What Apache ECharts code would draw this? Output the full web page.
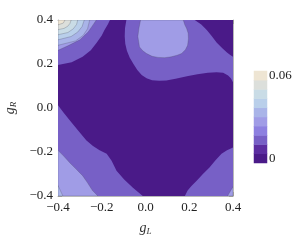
<!DOCTYPE html>
<html><head><meta charset="utf-8">
<script src="https://cdn.jsdelivr.net/npm/echarts@6/dist/echarts.min.js"></script>
<style>html,body{margin:0;padding:0;background:#fff}#c{width:300px;height:241px}</style>
</head><body><div id="c"></div>
<script>
// Contour band boundaries, in data units [g_L, g_R]
const plotDomain   = [[-0.4,-0.4],[0.4,-0.4],[0.4,0.4],[-0.4,0.4]];
const midTopLeft   = [[-0.4,0.4],[-0.1625,0.4],[-0.1725,0.38],[-0.1875,0.355],[-0.2,0.33],[-0.2225,0.2975],
                      [-0.25,0.2625],[-0.2875,0.2325],[-0.3375,0.2075],[-0.4,0.195]];
const midTopBand   = [[-0.0875,0.4],[-0.09375,0.3625],[-0.095,0.325],[-0.0925,0.2925],[-0.085,0.26],[-0.0725,0.23],
                      [-0.055,0.2],[-0.0375,0.1725],[-0.0175,0.15],[0.005,0.135],[0.03,0.12625],[0.0625,0.12375],
                      [0.095,0.125],[0.1375,0.1325],[0.195,0.145],[0.2375,0.15375],[0.285,0.16],[0.325,0.1625],
                      [0.355,0.16],[0.3775,0.1475],[0.39,0.135],[0.4,0.1175],[0.4,0.2325],[0.3875,0.24125],
                      [0.3725,0.2525],[0.35,0.2725],[0.325,0.2975],[0.3025,0.3275],[0.28,0.355],[0.255,0.38],[0.225,0.4]];
const midBottomLeft  = [[-0.4,0.0125],[-0.375,-0.02],[-0.3475,-0.055],[-0.31,-0.1],[-0.27,-0.1475],[-0.24,-0.1725],
                        [-0.21,-0.1925],[-0.1775,-0.2075],[-0.155,-0.24],[-0.1325,-0.285],[-0.0975,-0.325],
                        [-0.0575,-0.3625],[-0.0125,-0.4],[-0.4,-0.4]];
const midBottomRight = [[0.4,-0.18],[0.3725,-0.1925],[0.3475,-0.2075],[0.32,-0.2375],[0.2925,-0.27],[0.2625,-0.3],
                        [0.235,-0.33],[0.21,-0.355],[0.1925,-0.375],[0.18,-0.4],[0.4,-0.4]];
const lightTopLeft   = [[-0.4,0.4],[-0.225,0.4],[-0.24,0.3775],[-0.2625,0.345],[-0.3,0.31],[-0.35,0.285],[-0.4,0.262]];
const lightBlob      = [[-0.0225,0.4],[-0.03,0.3625],[-0.035,0.325],[-0.0275,0.2775],[-0.0125,0.26],[0.005,0.2475],
                        [0.03,0.235],[0.0575,0.23],[0.0875,0.22875],[0.1175,0.2325],[0.145,0.24],[0.165,0.2475],
                        [0.1825,0.265],[0.1925,0.285],[0.19625,0.315],[0.195,0.34],[0.1875,0.3625],[0.18,0.3775],[0.1725,0.4]];
const lightBottomLeft  = [[-0.4,-0.1925],[-0.375,-0.2175],[-0.3475,-0.2475],[-0.3175,-0.2775],[-0.2875,-0.3075],
                          [-0.265,-0.34],[-0.2425,-0.375],[-0.2175,-0.4],[-0.4,-0.4]];
const lightBottomRight = [[0.4,-0.3575],[0.375,-0.4],[0.4,-0.4]];
const band5TopLeft   = [[-0.4,0.4],[-0.255,0.4],[-0.265,0.36],[-0.285,0.33],[-0.32,0.305],[-0.4,0.285]];
const band5BottomLeft= [[-0.4,-0.3525],[-0.3775,-0.4],[-0.4,-0.4]];
const band6TopLeft   = [[-0.4,0.4],[-0.28,0.4],[-0.29,0.37],[-0.31,0.345],[-0.34,0.325],[-0.4,0.31]];
const band7TopLeft   = [[-0.4,0.4],[-0.31,0.4],[-0.315,0.38],[-0.33,0.36],[-0.355,0.343],[-0.4,0.333]];
const band8TopLeft   = [[-0.4,0.4],[-0.34,0.4],[-0.345,0.385],[-0.355,0.372],[-0.372,0.362],[-0.4,0.356]];
const band9TopLeft   = [[-0.4,0.4],[-0.368,0.4],[-0.376,0.386],[-0.4,0.378]];

const regionShapes = [plotDomain, midTopLeft, midTopBand, midBottomLeft, midBottomRight,
  lightTopLeft, lightBlob, lightBottomLeft, lightBottomRight, band5TopLeft, band5BottomLeft,
  band6TopLeft, band7TopLeft, band8TopLeft, band9TopLeft];
const regionLevels = [0, 2, 2, 2, 2, 4, 4, 4, 4, 5, 5, 6, 7, 8, 9];

const levelColors = ['#4a1a88','#5b2da0','#7760c6','#8d80e0','#a09ce6',
                     '#a9b4e8','#b9cfea','#c9dce6','#dcdfdb','#eee5d3'];
const tickLabels = ['\u22120.4','\u22120.2','0.0','0.2','0.4'];
const legendLabels = ['0','','','','','','','','','0.06'];

const levelCats = levelColors.map((_, i) => String(i));
const legendCells = levelColors.map((_, i) => [0, i, i]);

const serif = '"Liberation Serif", "Times New Roman", Times, serif';
function valAxis(pos, showLabel, extra) {
  return Object.assign({
    type: 'value', gridIndex: 0, position: pos, min: -0.4, max: 0.4, interval: 0.2,
    axisLine: {show: true, onZero: false, lineStyle: {color: '#b8b8b8', width: 1}},
    axisTick: {show: true, inside: true, length: 4, lineStyle: {color: '#9a9a9a'}},
    minorTick: {show: true, splitNumber: 4, length: 2, lineStyle: {color: '#aaa'}},
    splitLine: {show: false},
    axisLabel: {show: showLabel, formatter: v => tickLabels[Math.round((v + 0.4) / 0.2)],
      fontFamily: serif, fontSize: 13, color: '#222', margin: 5}
  }, extra || {});
}
const nameRich = {
  i: {fontFamily: serif, fontStyle: 'italic', fontSize: 14, color: '#333'},
  s: {fontFamily: serif, fontStyle: 'italic', fontSize: 9, color: '#333', padding: [6, 0, 0, 0]}
};

const chart = echarts.init(document.getElementById('c'), null, {renderer: 'canvas'});
chart.setOption({
  animation: false,
  textStyle: {fontFamily: serif},
  grid: [
    {left: 58, top: 20, width: 175, height: 176, containLabel: false, outerBoundsMode: 'none'},
    {left: 254, top: 71, width: 13, height: 92, containLabel: false, outerBoundsMode: 'none'}
  ],
  xAxis: [
    valAxis('bottom', true, {name: '{i|g}{s|L}', nameLocation: 'middle', nameGap: 25,
      nameTextStyle: {rich: nameRich}}),
    valAxis('top', false),
    {type: 'category', gridIndex: 1, data: ['0'], show: false}
  ],
  yAxis: [
    valAxis('left', true, {name: '{i|g}{s|R}', nameLocation: 'middle', nameGap: 40,
      nameTextStyle: {rich: nameRich}}),
    valAxis('right', false),
    {type: 'category', gridIndex: 1, data: levelCats, position: 'right',
      axisLine: {show: false}, axisTick: {show: false},
      axisLabel: {interval: 0, margin: 2, formatter: (v, i) => legendLabels[i],
        fontFamily: serif, fontSize: 13, color: '#222'}}
  ],
  visualMap: {
    type: 'piecewise', show: false, dimension: 2, seriesIndex: 1,
    pieces: levelColors.map((col, i) => ({value: i, color: col}))
  },
  series: [
    {type: 'custom', xAxisIndex: 0, yAxisIndex: 0, clip: true, silent: true,
      data: regionShapes.map((_, i) => [0, 0, i]), encode: {x: 0, y: 1},
      renderItem: (params, api) => {
        const i = params.dataIndex;
        const lvl = regionLevels[i];
        return {
          type: 'polygon',
          shape: {points: regionShapes[i].map(p => api.coord(p))},
          style: {fill: levelColors[lvl],
            stroke: lvl >= 4 ? 'rgba(70,70,90,0.45)' : null, lineWidth: 0.6}
        };
      }},
    {type: 'heatmap', xAxisIndex: 2, yAxisIndex: 2, data: legendCells, silent: true,
      itemStyle: {borderWidth: 0}}
  ]
});
</script></body></html>
